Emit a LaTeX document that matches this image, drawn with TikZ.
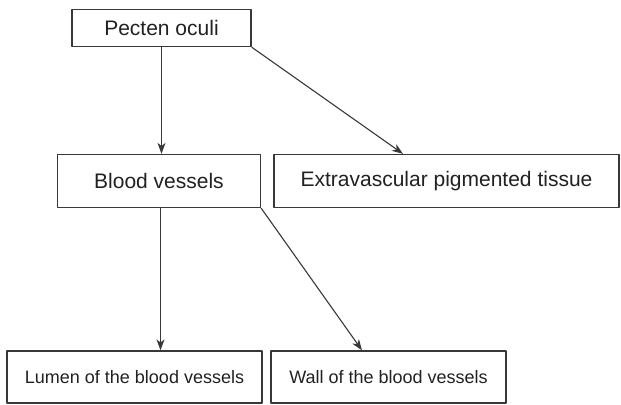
\documentclass[tikz,border=0pt]{standalone}
\usepackage{fontspec}
\setmainfont{Liberation Sans}
\usepackage{xcolor}
\usetikzlibrary{arrows.meta,calc}

\definecolor{boxline}{gray}{0.22}
\definecolor{boxtext}{gray}{0.13}

\tikzset{
  box/.style={draw=boxline, line width=0.65pt, fill=white, text=boxtext,
    inner sep=0pt, font=\fontsize{10.5pt}{12pt}\selectfont},
  smallbox/.style={box, font=\fontsize{9pt}{11pt}\selectfont},
  link/.style={draw=boxline, line width=0.55pt, -{Stealth[length=5.5pt, width=4pt, inset=1.6pt]}}
}

\begin{document}
\begin{tikzpicture}[x=0.5pt, y=-0.5pt, line join=round]
\useasboundingbox (0,0) rectangle (621,405);
% Top level
\node[box, minimum width=89.5pt, minimum height=18.5pt] (pecten) at (161.5, 28) {Pecten oculi};
% Second level
\node[box, minimum width=101.5pt, minimum height=26.5pt] (blood) at (159, 181) {Blood vessels};
\node[box, minimum width=172.5pt, minimum height=26.5pt] (extra) at (446.5, 181) {Extravascular pigmented tissue};
% Bottom level
\node[smallbox, minimum width=127.5pt, minimum height=26pt] (lumen) at (134.5, 377) {Lumen of the blood vessels};
\node[smallbox, minimum width=117.5pt, minimum height=26pt] (wall) at (388.5, 377) {Wall of the blood vessels};
% Arrows
\draw[link] (pecten.south) -- (pecten.south |- blood.north);
\draw[link] (pecten.south east) -- ([xshift=-21.75pt]extra.north);
\draw[link] ([xshift=0.75pt]blood.south) -- ([xshift=0.75pt]blood.south |- lumen.north);
\draw[link] (blood.south east) -- ([xshift=-13.25pt]wall.north);
\end{tikzpicture}
\end{document}
